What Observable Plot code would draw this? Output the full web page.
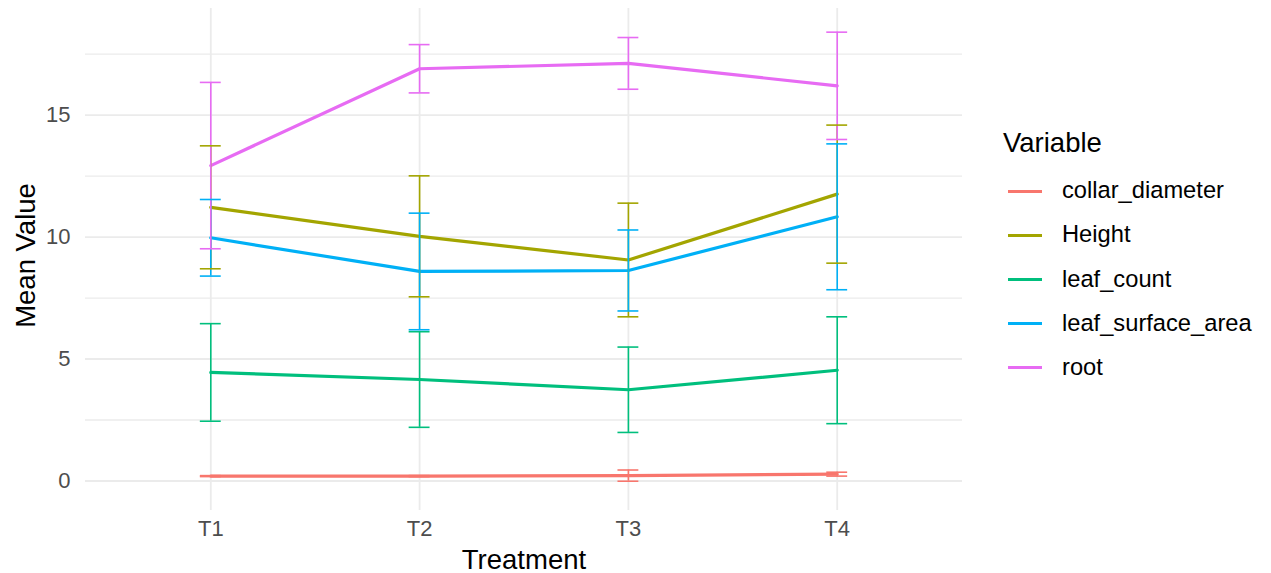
<!DOCTYPE html>
<html>
<head>
<meta charset="utf-8">
<script src="https://cdn.jsdelivr.net/npm/d3@7"></script>
<script src="https://cdn.jsdelivr.net/npm/@observablehq/plot@0.6"></script>
<style>
  html, body { margin: 0; padding: 0; background: #ffffff; }
  body { font-family: "Liberation Sans", Arial, sans-serif; }
  #wrap { position: relative; width: 1271px; height: 573px; overflow: hidden; }
  #legend { position: absolute; left: 1003px; top: 0; }
  #legend .title { position: absolute; left: 0; top: 129px; font-size: 27.5px; line-height: 27.5px; color: #000; white-space: nowrap; }
  #legend .rows { position: absolute; left: 5px; top: 169px; }
  #legend .row { height: 44.2px; display: flex; align-items: center; white-space: nowrap; }
  #legend .key { width: 34px; height: 3.2px; margin-right: 20px; }
  #legend .lab { font-size: 23.7px; line-height: 23.7px; color: #000; }
</style>
</head>
<body>
<div id="wrap"></div>
<script>
const treatments = ["T1", "T2", "T3", "T4"];
const variables = ["collar_diameter", "Height", "leaf_count", "leaf_surface_area", "root"];
const colors = ["#F8766D", "#A3A500", "#00BF7D", "#00B0F6", "#E76BF3"];

// mean values per variable, in treatment order
const collarMean = [0.20, 0.20, 0.22, 0.28];
const heightMean = [11.22, 10.03, 9.06, 11.76];
const leafCountMean = [4.45, 4.16, 3.74, 4.54];
const leafAreaMean = [9.97, 8.59, 8.63, 10.83];
const rootMean = [12.93, 16.90, 17.12, 16.20];

// error half-widths per variable
const collarErr = [0.02, 0.02, 0.23, 0.08];
const heightErr = [2.52, 2.48, 2.33, 2.83];
const leafCountErr = [2.00, 1.96, 1.75, 2.19];
const leafAreaErr = [1.57, 2.39, 1.66, 2.99];
const rootErr = [3.41, 0.99, 1.06, 2.20];

const yTicks = [0, 5, 10, 15];
const yMinor = [2.5, 7.5, 12.5, 17.5];
const capWidth = 0.1;

const means = [collarMean, heightMean, leafCountMean, leafAreaMean, rootMean];
const errs = [collarErr, heightErr, leafCountErr, leafAreaErr, rootErr];

const rows = [];
variables.forEach((v, vi) => {
  treatments.forEach((t, ti) => {
    rows.push({variable: v, treatment: t, x: ti + 1, mean: means[vi][ti], err: errs[vi][ti]});
  });
});

const grid = "#ebebeb";
const chart = Plot.plot({
  width: 1271,
  height: 573,
  marginLeft: 85,
  marginRight: 309,
  marginTop: 8,
  marginBottom: 63,
  style: {fontFamily: "'Liberation Sans', Arial, sans-serif", background: "transparent"},
  x: {type: "linear", domain: [0.4, 4.6], axis: null},
  y: {domain: [-1.21, 19.37], axis: null},
  color: {domain: variables, range: colors},
  marks: [
    Plot.gridY(yMinor, {stroke: grid, strokeOpacity: 1, strokeWidth: 1.3}),
    Plot.gridY(yTicks, {stroke: grid, strokeOpacity: 1, strokeWidth: 1.8}),
    Plot.gridX(treatments.map((t, i) => i + 1), {stroke: grid, strokeOpacity: 1, strokeWidth: 1.8}),
    Plot.axisX({ticks: treatments.map((t, i) => i + 1), tickFormat: i => treatments[i - 1], tickSize: 0, tickPadding: 10, fontSize: 22, fill: "#4d4d4d", label: null}),
    Plot.axisY({ticks: yTicks, tickFormat: d => String(d), tickSize: 0, tickPadding: 15, fontSize: 22, fill: "#4d4d4d", label: null}),
    Plot.line(rows, {x: "x", y: "mean", z: "variable", stroke: "variable", strokeWidth: 3.2, curve: "linear"}),
    Plot.ruleX(rows, {x: "x", y1: d => d.mean - d.err, y2: d => d.mean + d.err, stroke: "variable", strokeWidth: 1.6}),
    Plot.ruleY(rows, {y: d => d.mean + d.err, x1: d => d.x - capWidth / 2, x2: d => d.x + capWidth / 2, stroke: "variable", strokeWidth: 1.6}),
    Plot.ruleY(rows, {y: d => d.mean - d.err, x1: d => d.x - capWidth / 2, x2: d => d.x + capWidth / 2, stroke: "variable", strokeWidth: 1.6}),
    Plot.text(["Treatment"], {frameAnchor: "bottom", dy: 58, lineAnchor: "bottom", textAnchor: "middle", fontSize: 27.5, fill: "#000"}),
    Plot.text(["Mean Value"], {frameAnchor: "left", dx: -51, dy: -4, rotate: -90, lineAnchor: "bottom", textAnchor: "middle", fontSize: 27.5, fill: "#000"})
  ]
});

const wrap = document.getElementById("wrap");
wrap.appendChild(chart);

const legend = document.createElement("div");
legend.id = "legend";
const title = document.createElement("div");
title.className = "title";
title.textContent = "Variable";
legend.appendChild(title);
const rowsDiv = document.createElement("div");
rowsDiv.className = "rows";
variables.forEach((v, i) => {
  const r = document.createElement("div");
  r.className = "row";
  const k = document.createElement("div");
  k.className = "key";
  k.style.background = colors[i];
  const l = document.createElement("div");
  l.className = "lab";
  l.textContent = v;
  r.appendChild(k);
  r.appendChild(l);
  rowsDiv.appendChild(r);
});
legend.appendChild(rowsDiv);
wrap.appendChild(legend);
</script>
</body>
</html>
